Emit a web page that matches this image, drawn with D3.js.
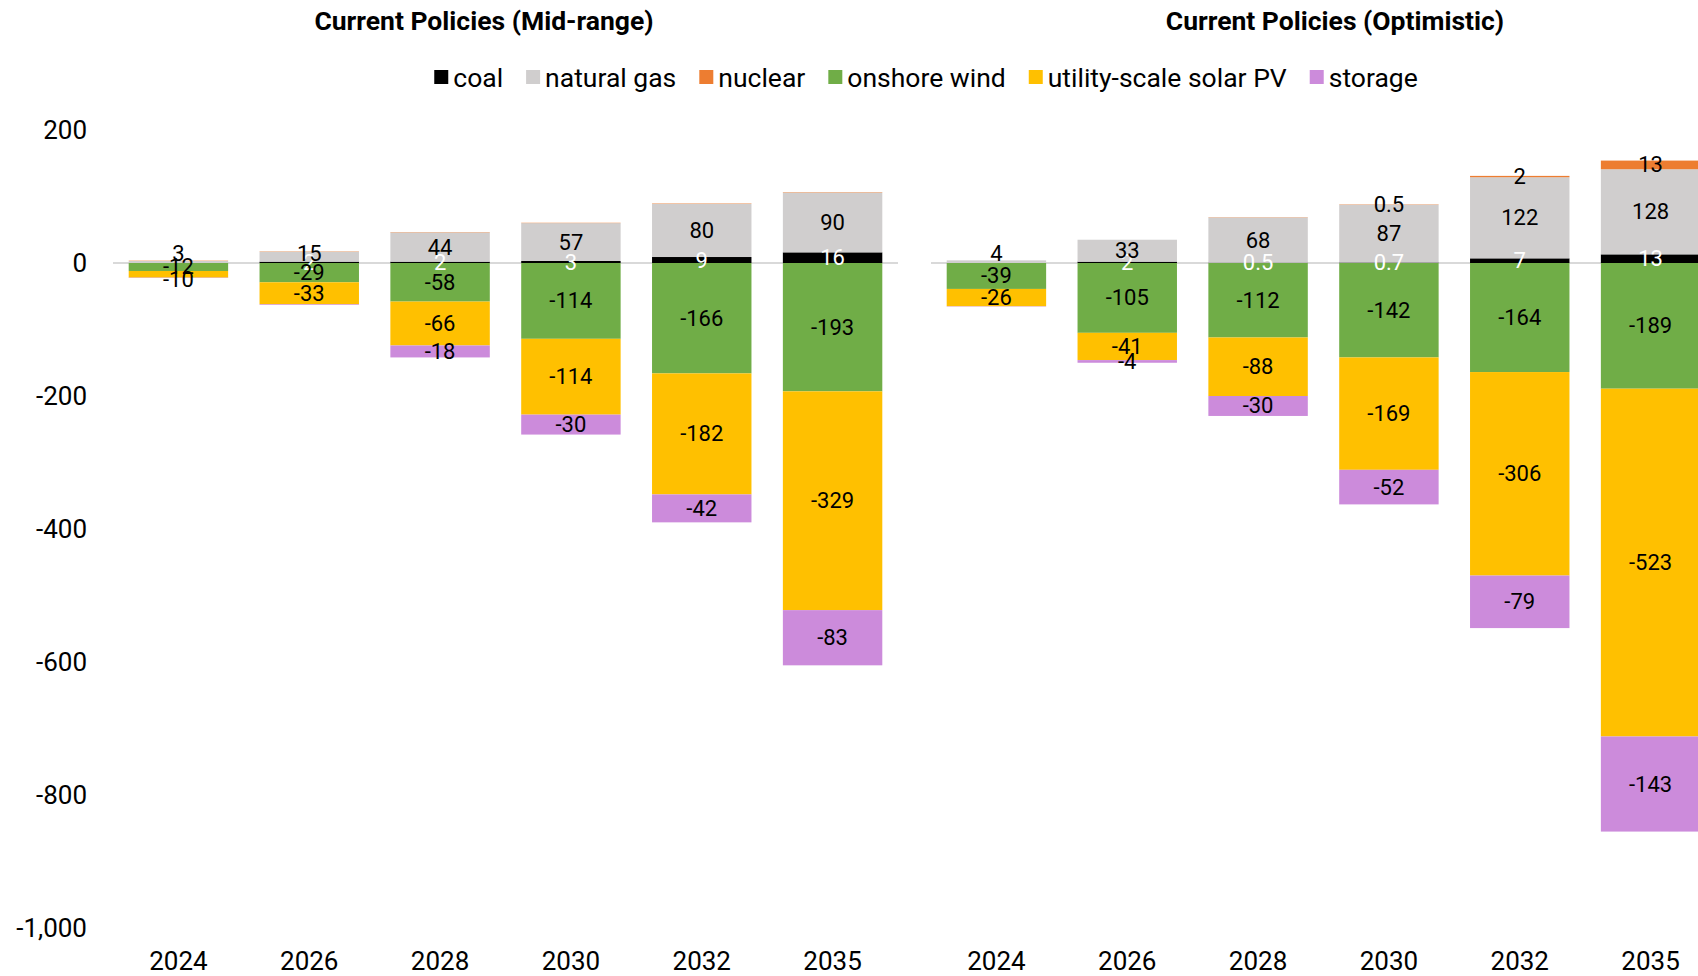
<!DOCTYPE html>
<html>
<head>
<meta charset="utf-8">
<script src="https://cdn.jsdelivr.net/npm/d3@7"></script>
<style>
  html, body { margin: 0; padding: 0; background: #fff; }
  svg { display: block; font-family: Roboto, "Noto Sans", sans-serif; }
</style>
</head>
<body>
<svg id="chart" width="1698" height="976"></svg>
<script>
// ---- data -------------------------------------------------------------
const years = ["2024", "2026", "2028", "2030", "2032", "2035"];
const seriesNames = ["coal", "natural gas", "nuclear", "onshore wind", "utility-scale solar PV", "storage"];
const seriesColors = ["#000000", "#d0cece", "#ed7d31", "#70ad47", "#ffc000", "#cc8bdb"];
const seriesLabelColors = ["#ffffff", "#000000", "#000000", "#000000", "#000000", "#000000"];

const panelTitles = ["Current Policies (Mid-range)", "Current Policies (Optimistic)"];

// Mid-range scenario
const midCoal    = [0, 2, 2, 3, 9, 16];
const midGas     = [3, 15, 44, 57, 80, 90];
const midNuclear = [0.5, 0.5, 0.5, 0.5, 0.6, 0.6];
const midWind    = [-12, -29, -58, -114, -166, -193];
const midSolar   = [-10, -33, -66, -114, -182, -329];
const midStorage = [-0.5, -1, -18, -30, -42, -83];

// Optimistic scenario
const optCoal    = [0, 2, 0.5, 0.7, 7, 13];
const optGas     = [4, 33, 68, 87, 122, 128];
const optNuclear = [0, 0, 0.4, 0.5, 2, 13];
const optWind    = [-39, -105, -112, -142, -164, -189];
const optSolar   = [-26, -41, -88, -169, -306, -523];
const optStorage = [-0.5, -4, -30, -52, -79, -143];

// segments drawn without a value label: [series index, year index]
const midUnlabeled = [[0, 0], [2, 0], [2, 1], [2, 2], [2, 3], [2, 4], [2, 5], [5, 0], [5, 1]];
const optUnlabeled = [[0, 0], [2, 0], [2, 1], [2, 2], [5, 0]];

const yTickValues = [200, 0, -200, -400, -600, -800, -1000];
const yTickLabels = ["200", "0", "-200", "-400", "-600", "-800", "-1,000"];

// ---- layout -----------------------------------------------------------
const svg = d3.select("#chart");
const yTop = 130, yBottom = 928;
const y = d3.scaleLinear().domain([-1000, 200]).range([yBottom, yTop]);

const panels = [
  { title: panelTitles[0], titleX: 484, x0: 113, x1: 898,
    series: [midCoal, midGas, midNuclear, midWind, midSolar, midStorage], unlabeled: midUnlabeled },
  { title: panelTitles[1], titleX: 1335, x0: 931, x1: 1716,
    series: [optCoal, optGas, optNuclear, optWind, optSolar, optStorage], unlabeled: optUnlabeled }
];

const fmtLabel = v => String(v).replace("\u2212", "-");
const labelHalf = 9.5;   // half height of a value label
const labelStep = 13;    // minimum spacing between stacked negative labels

panels.forEach(p => {
  const x = d3.scaleBand().domain(years).range([p.x0, p.x1])
    .paddingInner(0.24).paddingOuter(0.12);

  const g = svg.append("g");

  // zero line
  g.append("line")
    .attr("x1", p.x0).attr("x2", p.x1)
    .attr("y1", y(0)).attr("y2", y(0))
    .attr("stroke", "#d9d9d9").attr("stroke-width", 2);

  // build stacked segments: positives stack upward, negatives downward
  const segs = [];
  years.forEach((yr, j) => {
    let pos = 0, neg = 0, lastNegY = null;
    p.series.forEach((arr, i) => {
      const v = arr[j];
      let lo, hi;
      if (v >= 0) { lo = pos; hi = pos + v; pos = hi; }
      else { hi = neg; lo = neg + v; neg = lo; }
      const hidden = p.unlabeled.some(d => d[0] === i && d[1] === j);
      let ly = y((lo + hi) / 2);
      if (!hidden && v !== 0) {
        if (v > 0 && i > 0) ly = Math.min(ly, y(0) - labelHalf);   // keep above the baseline
        if (v < 0) {
          if (lastNegY !== null) ly = Math.max(ly, lastNegY + labelStep);
          lastNegY = ly;
        }
      }
      segs.push({ yr, i, v, lo, hi, hidden, ly });
    });
  });

  g.selectAll("rect.seg").data(segs.filter(d => d.v !== 0)).join("rect")
    .attr("class", "seg")
    .attr("x", d => x(d.yr))
    .attr("width", x.bandwidth())
    .attr("y", d => y(d.hi))
    .attr("height", d => Math.max(0, y(d.lo) - y(d.hi)))
    .attr("fill", d => seriesColors[d.i]);

  g.selectAll("text.val").data(segs.filter(d => d.v !== 0 && !d.hidden)).join("text")
    .attr("class", "val")
    .attr("x", d => x(d.yr) + x.bandwidth() / 2)
    .attr("y", d => d.ly)
    .attr("text-anchor", "middle")
    .attr("dominant-baseline", "central")
    .attr("font-size", 22)
    .attr("fill", d => seriesLabelColors[d.i])
    .text(d => fmtLabel(d.v));

  // category axis labels
  g.selectAll("text.cat").data(years).join("text")
    .attr("class", "cat")
    .attr("x", d => x(d) + x.bandwidth() / 2)
    .attr("y", 961)
    .attr("text-anchor", "middle")
    .attr("dominant-baseline", "central")
    .attr("font-size", 26)
    .attr("fill", "#000")
    .text(d => d);

  // panel title
  svg.append("text")
    .attr("x", p.titleX).attr("y", 20)
    .attr("text-anchor", "middle")
    .attr("dominant-baseline", "central")
    .attr("font-size", 26.5).attr("font-weight", "bold")
    .attr("fill", "#000")
    .text(p.title);
});

// value axis labels (left panel only)
svg.append("g").selectAll("text").data(yTickValues).join("text")
  .attr("x", 87)
  .attr("y", d => y(d))
  .attr("text-anchor", "end")
  .attr("dominant-baseline", "central")
  .attr("font-size", 26)
  .attr("fill", "#000")
  .text((d, i) => yTickLabels[i]);

// ---- legend -----------------------------------------------------------
const legend = svg.append("g");
const legendY = 77, box = 14, boxGap = 5, itemGap = 23;
let cx = 0;
seriesNames.forEach((name, i) => {
  const item = legend.append("g");
  item.append("rect").attr("x", 0).attr("y", -box / 2)
    .attr("width", box).attr("height", box).attr("fill", seriesColors[i]);
  const t = item.append("text").attr("x", box + boxGap).attr("y", 0)
    .attr("dominant-baseline", "central").attr("font-size", 26.5).attr("fill", "#000")
    .text(name);
  const w = box + boxGap + t.node().getComputedTextLength();
  item.attr("transform", `translate(${cx},0)`);
  cx += w + itemGap;
});
const legendWidth = cx - itemGap;
legend.attr("transform", `translate(${926 - legendWidth / 2},${legendY})`);
</script>
</body>
</html>
